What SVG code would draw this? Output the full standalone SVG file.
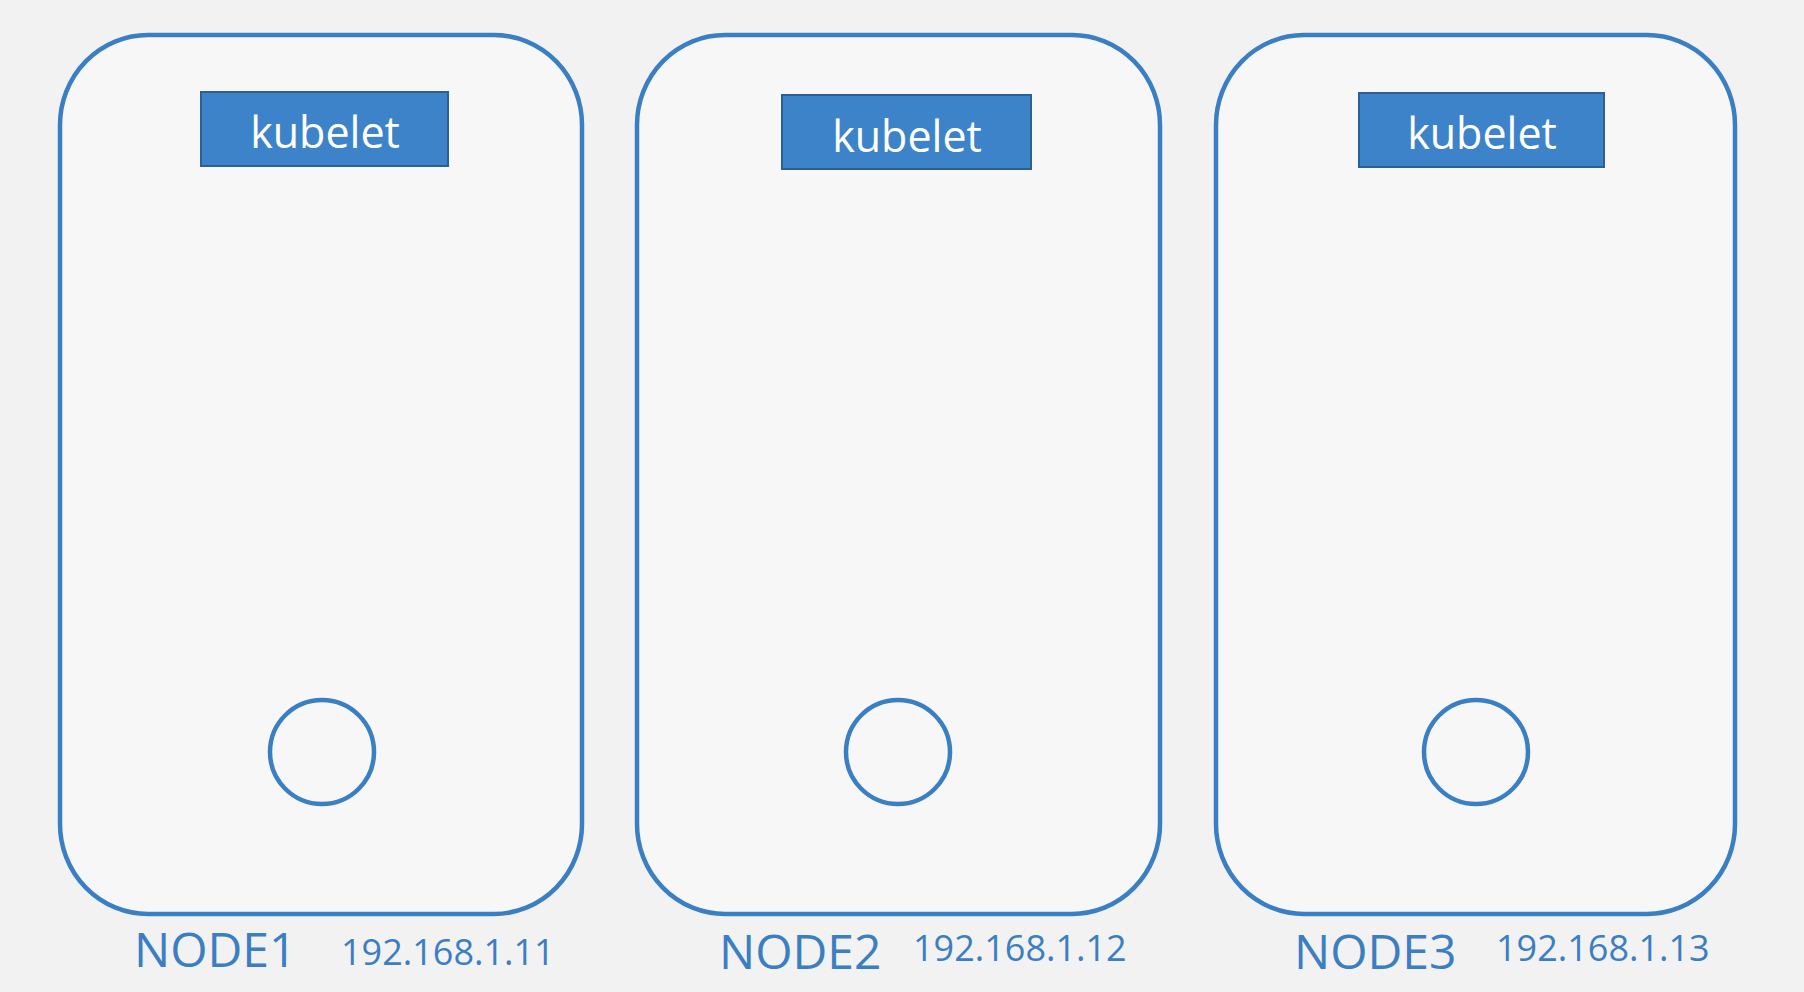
<svg xmlns="http://www.w3.org/2000/svg" width="1804" height="992" viewBox="0 0 1804 992">
<style>
.node{fill:#f7f7f7;stroke:#3a7fc4;stroke-width:4.5}
.kb{fill:#3d83c9;stroke:#2d5f95;stroke-width:2}
.kbt{font-family:"Open Sans","Liberation Sans",sans-serif;font-size:43px;fill:#ffffff;text-anchor:middle}
.pod{fill:none;stroke:#3a7fc4;stroke-width:4.5}
.lbl{font-family:"Open Sans","Liberation Sans",sans-serif;font-size:48px;fill:#3b7ec2}
.ip{font-family:"Open Sans","Liberation Sans",sans-serif;font-size:36px;fill:#3b7ec2}
</style>
<rect width="1804" height="992" fill="#f2f2f2"/>
<g id="connectors"/>
<g id="node1">
<rect class="node" x="60" y="35" width="522" height="879" rx="88" ry="90"/>
<rect class="kb" x="201" y="92" width="247" height="74"/>
<text class="kbt" x="325" y="148">kubelet</text>
<circle class="pod" cx="322" cy="752" r="52"/>
<text class="lbl" x="134" y="967">NODE1</text>
<text class="ip" x="341" y="965">192.168.1.11</text>
</g>
<g id="node2">
<rect class="node" x="637" y="35" width="523" height="879" rx="88" ry="90"/>
<rect class="kb" x="782" y="95" width="249" height="74"/>
<text class="kbt" x="907" y="152">kubelet</text>
<circle class="pod" cx="898" cy="752" r="52"/>
<text class="lbl" x="719" y="969">NODE2</text>
<text class="ip" x="913" y="961">192.168.1.12</text>
</g>
<g id="node3">
<rect class="node" x="1216" y="35" width="519" height="879" rx="88" ry="90"/>
<rect class="kb" x="1359" y="93" width="245" height="74"/>
<text class="kbt" x="1482" y="149">kubelet</text>
<circle class="pod" cx="1476" cy="752" r="52"/>
<text class="lbl" x="1294" y="969">NODE3</text>
<text class="ip" x="1496" y="961">192.168.1.13</text>
</g>
</svg>
